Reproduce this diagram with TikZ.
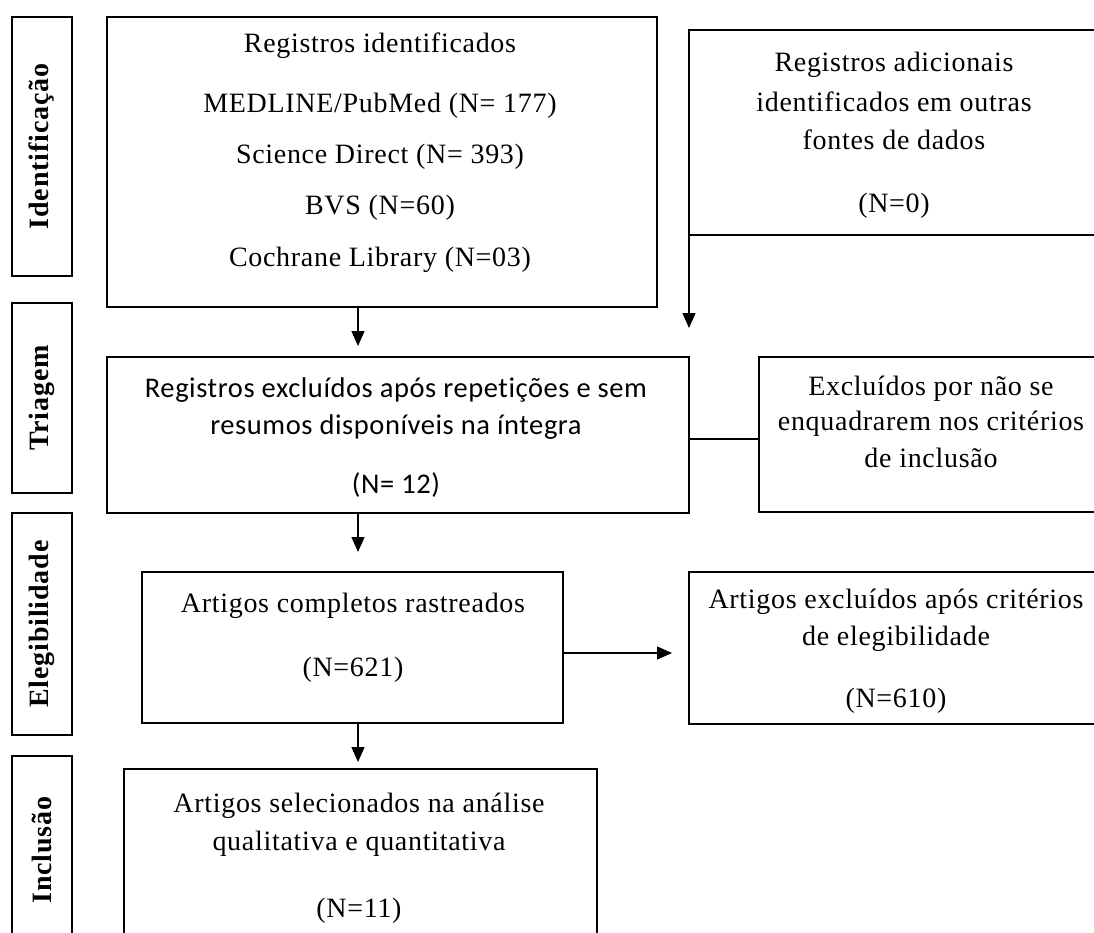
\documentclass[tikz,border=0pt]{standalone}
\usepackage{fontspec}
\usetikzlibrary{arrows.meta}
\newfontfamily\serifL[LetterSpace=2.5]{Liberation Serif}
\newfontfamily\labfont[LetterSpace=3]{Liberation Serif}
\newfontfamily\sansC[LetterSpace=2,Ligatures=NoCommon]{Carlito}
\tikzset{
  box/.style={draw, line width=1.5pt, rectangle, inner sep=0pt, outer sep=0pt},
  lab/.style={box, font=\labfont\bfseries\fontsize{28}{32}\selectfont},
  labtxt/.style={font=\labfont\bfseries\fontsize{28}{32}\selectfont, rotate=90},
  txt/.style={font=\serifL\fontsize{28}{30}\selectfont, inner sep=0pt, anchor=base},
  stxt/.style={font=\sansC\fontsize{28.5}{30}\selectfont, inner sep=0pt, anchor=base},
  arr/.style={line width=1.3pt, -{Triangle[length=15pt,width=13pt]}},
  conn/.style={line width=1.3pt}
}
\begin{document}
\begin{tikzpicture}[x=1pt,y=-1pt]
\useasboundingbox (0,0) rectangle (1094,933);
\clip (0,0) rectangle (1094,933);
% stage labels
\node[lab, minimum width=60pt, minimum height=259pt] (L1) at (42,146.5) {};
\node[labtxt] (L1t) at (L1.center) {Identificação};
\node[lab, minimum width=60pt, minimum height=190pt] (L2) at (42,398) {};
\node[labtxt] (L2t) at (L2.center) {Triagem};
\node[lab, minimum width=60pt, minimum height=222pt] (L3) at (42,624) {};
\node[labtxt] (L3t) at (L3.center) {Elegibilidade};
\node[lab, minimum width=60pt, minimum height=188pt] (L4) at (42,850) {};
\node[labtxt] (L4t) at (L4.center) {Inclusão};
% boxes
\node[box, minimum width=550pt, minimum height=290pt] (A) at (382,162) {};
\node[box, minimum width=411pt, minimum height=205pt] (B) at (894.5,132.5) {};
\node[box, minimum width=582pt, minimum height=156pt] (C) at (398,435) {};
\node[box, minimum width=344pt, minimum height=155pt] (D) at (931,434.5) {};
\node[box, minimum width=421pt, minimum height=151pt] (E) at (352.5,647.5) {};
\node[box, minimum width=414pt, minimum height=152pt] (F) at (896,648) {};
\node[box, minimum width=473pt, minimum height=191pt] (G) at (360.5,864.5) {};
% texts A
\node[txt] (A1) at (380,53) {Registros identificados};
\node[txt] (A2) at (380,113) {MEDLINE/PubMed (N= 177)};
\node[txt] (A3) at (380,164) {Science Direct (N= 393)};
\node[txt] (A4) at (380,215) {BVS (N=60)};
\node[txt] (A5) at (380,266) {Cochrane Library (N=03)};
% texts B
\node[txt] (B1) at (894,72) {Registros adicionais};
\node[txt] (B2) at (894,112) {identificados em outras};
\node[txt] (B3) at (894,150) {fontes de dados};
\node[txt] (B4) at (894,213) {(N=0)};
% texts C
\node[stxt] (C1) at (396,397) {Registros excluídos após repetições e sem};
\node[stxt] (C2) at (396,434) {resumos disponíveis na íntegra};
\node[stxt] (C3) at (396,493) {(N= 12)};
% texts D
\node[txt] (D1) at (931,395) {Excluídos por não se};
\node[txt] (D2) at (931,430) {enquadrarem nos critérios};
\node[txt] (D3) at (931,467) {de inclusão};
% texts E
\node[txt] (E1) at (353,612) {Artigos completos rastreados};
\node[txt] (E2) at (353,676) {(N=621)};
% texts F
\node[txt] (F1) at (896,608) {Artigos excluídos após critérios};
\node[txt] (F2) at (896,645) {de elegibilidade};
\node[txt] (F3) at (896,707) {(N=610)};
% texts G
\node[txt] (G1) at (359,812) {Artigos selecionados na análise};
\node[txt] (G2) at (359,850) {qualitativa e quantitativa};
\node[txt] (G3) at (359,917) {(N=11)};
% connectors
\coordinate (ax) at (358,0);
\coordinate (ey) at (0,653);
\coordinate (cy) at (0,439);
\draw[arr, shorten >=11pt] (A.south -| ax) -- (C.north -| ax);
\draw[arr, shorten >=20pt] (C.south -| ax) -- (E.north -| ax);
\draw[arr, shorten >=7pt] (E.south -| ax) -- (G.north -| ax);
\draw[arr, shorten >=17pt] (E.east |- ey) -- (F.west |- ey);
\draw[arr, shorten >=29pt] (B.south west) -- (C.north east);
\draw[conn] (C.east |- cy) -- (D.west |- cy);
\end{tikzpicture}
\end{document}
